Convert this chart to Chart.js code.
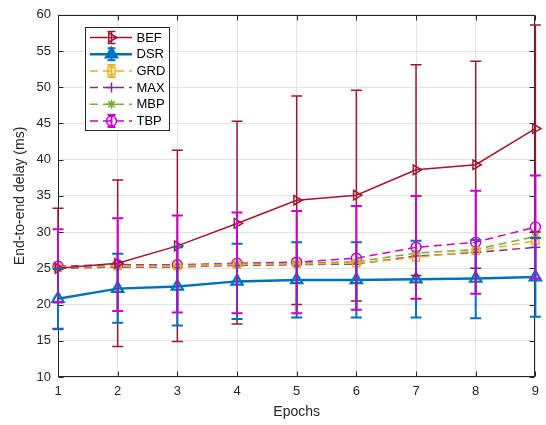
<!DOCTYPE html>
<html>
<head>
<meta charset="utf-8">
<script src="https://cdn.jsdelivr.net/npm/chart.js@4.4.0/dist/chart.umd.min.js"></script>
<style>
  html, body { margin: 0; padding: 0; background: #ffffff; }
  #wrap { width: 546px; height: 425px; }
</style>
</head>
<body>
<div id="wrap"><canvas id="c" width="546" height="425"></canvas></div>
<script>
// ---- data -------------------------------------------------------------
const epochs = [1, 2, 3, 4, 5, 6, 7, 8, 9];
const yTickValues = [10, 15, 20, 25, 30, 35, 40, 45, 50, 55, 60];

const befMean = [25.0, 25.7, 28.1, 31.2, 34.4, 35.1, 38.6, 39.3, 44.3];
const befLow  = [16.7, 14.2, 14.9, 17.3, 20.0, 20.5, 24.0, 25.0, 30.0];
const befHigh = [33.3, 37.2, 41.3, 45.3, 48.8, 49.6, 53.1, 53.6, 58.6];

const dsrMean = [20.8, 22.2, 22.5, 23.2, 23.4, 23.4, 23.5, 23.6, 23.8];
const dsrLow  = [16.6, 17.5, 17.1, 18.0, 18.2, 18.2, 18.2, 18.1, 18.3];
const dsrHigh = [24.9, 27.0, 27.9, 28.4, 28.6, 28.6, 28.8, 28.9, 29.2];

const grdMean = [25.1, 25.3, 25.3, 25.5, 25.6, 25.7, 26.5, 27.4, 28.8];
const maxMean = [25.0, 25.2, 25.2, 25.4, 25.5, 25.6, 26.7, 27.2, 27.9];
const maxLow  = [20.6, 19.4, 19.2, 19.1, 19.1, 19.6, 21.1, 21.8, 23.9];
const mbpMean = [25.2, 25.4, 25.4, 25.6, 25.7, 25.9, 27.1, 27.6, 29.4];

const tbpMean = [25.3, 25.5, 25.5, 25.7, 25.85, 26.4, 27.9, 28.6, 30.7];
const tbpLow  = [20.3, 19.1, 18.9, 18.8, 18.8, 19.3, 20.8, 21.5, 23.6];
const tbpHigh = [30.4, 31.9, 32.3, 32.7, 32.9, 33.6, 35.0, 35.7, 37.8];

// ---- styling ----------------------------------------------------------
const C = {
  bef: '#A2142F', dsr: '#0072BD', grd: '#EDB120',
  max: '#7E2F8E', mbp: '#77AC30', tbp: '#CC00CC',
  maxBar: '#8427B8', axis: '#262626', grid: '#E3E3E3'
};
const FONT = '"Liberation Sans", Arial, Helvetica, sans-serif';
const DASH = [8, 5];

const pts = (ys) => epochs.map((x, i) => ({ x: x, y: ys[i] }));

function series(label, ys, color, opts) {
  return Object.assign({
    label: label,
    data: pts(ys),
    borderColor: color,
    backgroundColor: 'rgba(0,0,0,0)',
    pointBorderColor: color,
    pointBackgroundColor: 'rgba(0,0,0,0)',
    borderWidth: 1.5,
    pointBorderWidth: 1.5,
    pointRadius: 5,
    tension: 0,
    clip: false,
    fill: false
  }, opts);
}

const datasets = [
  series('BEF', befMean, C.bef, { pointStyle: 'triangle', pointRotation: 90, pointRadius: 5.5, borderWidth: 1.5 }),
  series('DSR', dsrMean, C.dsr, { pointStyle: 'triangle', pointRadius: 6.5, borderWidth: 2.5, pointBorderWidth: 2.2 }),
  series('GRD', grdMean, C.grd, { pointStyle: 'rect', pointRadius: 5, borderDash: DASH }),
  series('MAX', maxMean, C.max, { pointStyle: 'cross', pointRadius: 5, borderDash: DASH }),
  series('MBP', mbpMean, C.mbp, { pointStyle: 'star', pointRadius: 4.5, borderDash: DASH }),
  series('TBP', tbpMean, C.tbp, { pointStyle: 'circle', pointRadius: 5, borderDash: DASH })
];

// error bars, drawn in this order on top of the lines
const errorBars = [
  { low: befLow, high: befHigh, color: C.bef, width: 1.5, cap: 5.5 },
  { low: dsrLow, high: dsrHigh, color: C.dsr, width: 2, cap: 5.5 },
  { low: tbpLow, high: tbpHigh, color: C.tbp, width: 2, cap: 5.5 },
  { low: maxLow, high: maxMean, color: C.maxBar, width: 1.8, cap: 0 }
];

const errorBarPlugin = {
  id: 'errorBars',
  afterDatasetsDraw(chart) {
    const { ctx, scales: { x, y } } = chart;
    ctx.save();
    ctx.setLineDash([]);
    errorBars.forEach(b => {
      ctx.strokeStyle = b.color;
      ctx.lineWidth = b.width;
      epochs.forEach((e, i) => {
        const px = x.getPixelForValue(e);
        const y1 = y.getPixelForValue(b.low[i]);
        const y2 = y.getPixelForValue(b.high[i]);
        ctx.beginPath();
        ctx.moveTo(px, y1); ctx.lineTo(px, y2);
        if (b.cap > 0) {
          ctx.moveTo(px - b.cap, y1); ctx.lineTo(px + b.cap, y1);
          ctx.moveTo(px - b.cap, y2); ctx.lineTo(px + b.cap, y2);
        }
        ctx.stroke();
      });
    });
    ctx.restore();
  }
};

// boxed axes with inward ticks on all four sides
const boxPlugin = {
  id: 'axesBox',
  beforeDatasetsDraw(chart) {
    const { ctx, chartArea: a, scales: { x, y } } = chart;
    ctx.save();
    ctx.strokeStyle = C.axis;
    ctx.lineWidth = 1;
    const L = Math.round(a.left) + 0.5, R = Math.round(a.right) - 0.5;
    const T = Math.round(a.top) + 0.5, B = Math.round(a.bottom) - 0.5;
    ctx.strokeRect(L, T, R - L, B - T);
    ctx.beginPath();
    epochs.forEach(e => {
      const px = Math.round(x.getPixelForValue(e)) + 0.5;
      ctx.moveTo(px, B); ctx.lineTo(px, B - 5);
      ctx.moveTo(px, T); ctx.lineTo(px, T + 5);
    });
    yTickValues.forEach(v => {
      const py = Math.round(y.getPixelForValue(v)) + 0.5;
      ctx.moveTo(L, py); ctx.lineTo(L + 5, py);
      ctx.moveTo(R, py); ctx.lineTo(R - 5, py);
    });
    ctx.stroke();
    ctx.restore();
  }
};

// legend box inside the plot, top-left
const legendPlugin = {
  id: 'boxLegend',
  afterDraw(chart) {
    const ctx = chart.ctx;
    const box = { x: 85.5, y: 27.5, w: 84, h: 103 };
    const rowY0 = 37.5, rowH = 16.7;
    const glyphBars = { BEF: true, DSR: true, GRD: true, TBP: true };
    const filledMarks = { DSR: true };
    ctx.save();
    ctx.fillStyle = '#ffffff';
    ctx.fillRect(box.x, box.y, box.w, box.h);
    ctx.strokeStyle = C.axis;
    ctx.lineWidth = 1;
    ctx.setLineDash([]);
    ctx.strokeRect(box.x, box.y, box.w, box.h);
    chart.data.datasets.forEach((ds, i) => {
      const cy = rowY0 + i * rowH;
      const x0 = 90, x1 = 132, cx = 111.5;
      ctx.strokeStyle = ds.borderColor;
      ctx.lineWidth = ds.borderWidth;
      ctx.setLineDash(ds.borderDash || []);
      ctx.beginPath();
      ctx.moveTo(x0, cy); ctx.lineTo(x1, cy);
      ctx.stroke();
      ctx.setLineDash([]);
      if (glyphBars[ds.label]) {
        ctx.lineWidth = ds.label === 'BEF' ? 1.5 : 2;
        ctx.beginPath();
        ctx.moveTo(cx, cy - 6); ctx.lineTo(cx, cy + 6);
        ctx.moveTo(cx - 4, cy - 6); ctx.lineTo(cx + 4, cy - 6);
        ctx.moveTo(cx - 4, cy + 6); ctx.lineTo(cx + 4, cy + 6);
        ctx.stroke();
      }
      ctx.strokeStyle = ds.pointBorderColor;
      ctx.fillStyle = filledMarks[ds.label] ? ds.pointBorderColor : 'rgba(0,0,0,0)';
      ctx.lineWidth = ds.pointBorderWidth;
      Chart.helpers.drawPoint(ctx, {
        pointStyle: ds.pointStyle,
        radius: ds.pointRadius,
        rotation: ds.pointRotation || 0,
        borderWidth: ds.pointBorderWidth
      }, cx, cy);
      ctx.fillStyle = '#000000';
      ctx.font = '13px ' + FONT;
      ctx.textBaseline = 'middle';
      ctx.textAlign = 'left';
      ctx.fillText(ds.label, 136.5, cy + 0.5);
    });
    ctx.restore();
  }
};

new Chart(document.getElementById('c'), {
  type: 'line',
  data: { datasets: datasets },
  plugins: [boxPlugin, errorBarPlugin, legendPlugin],
  options: {
    responsive: false,
    devicePixelRatio: 1,
    animation: false,
    layout: { padding: { left: 0, right: 10, top: 13, bottom: 0 } },
    plugins: { legend: { display: false }, tooltip: { enabled: false } },
    elements: { line: { borderCapStyle: 'butt' } },
    scales: {
      x: {
        type: 'linear', min: 1, max: 9,
        afterBuildTicks: s => { s.ticks = epochs.map(v => ({ value: v })); },
        afterFit: s => { s.height = 48; },
        ticks: { color: C.axis, font: { family: FONT, size: 13 }, padding: 7, maxRotation: 0 },
        grid: { color: C.grid, drawTicks: false },
        border: { display: false },
        title: { display: true, text: 'Epochs', color: C.axis, font: { family: FONT, size: 14 }, padding: { top: 0, bottom: 4 } }
      },
      y: {
        type: 'linear', min: 10, max: 60,
        afterBuildTicks: s => { s.ticks = yTickValues.map(v => ({ value: v })); },
        afterFit: s => { s.width = 58; },
        ticks: { color: C.axis, font: { family: FONT, size: 13 }, padding: 7 },
        grid: { color: C.grid, drawTicks: false },
        border: { display: false },
        title: { display: true, text: 'End-to-end delay (ms)', color: C.axis, font: { family: FONT, size: 14 }, padding: { top: 12, bottom: 0 } }
      }
    }
  }
});
</script>
</body>
</html>
